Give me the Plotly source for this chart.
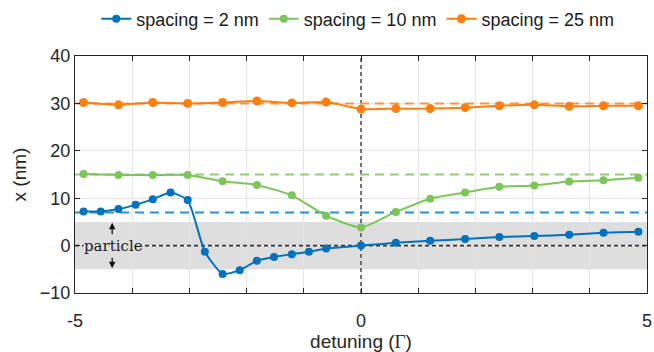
import plotly.graph_objects as go

# ---------------- data ----------------
x_fine = [-4.85, -4.55, -4.24, -3.94, -3.64, -3.33, -3.03, -2.73, -2.42, -2.12, -1.82, -1.52,
          -1.21, -0.91, -0.61, 0.0, 0.61, 1.21, 1.82, 2.42, 3.03, 3.64, 4.24, 4.85]
x_coarse = [-4.85, -4.24, -3.64, -3.03, -2.42, -1.82, -1.21, -0.61, 0.0,
            0.61, 1.21, 1.82, 2.42, 3.03, 3.64, 4.24, 4.85]

x_2nm = [7.2, 7.2, 7.7, 8.6, 9.8, 11.2, 9.6, -1.3, -6.0, -5.2, -3.2, -2.4,
         -1.8, -1.3, -0.6, 0.0, 0.6, 1.0, 1.4, 1.8, 2.0, 2.3, 2.7, 2.9]
x_10nm = [15.1, 14.9, 14.9, 14.9, 13.6, 12.8, 10.6, 6.3, 3.8,
          7.1, 9.9, 11.2, 12.4, 12.7, 13.5, 13.8, 14.3]
x_25nm = [30.2, 29.7, 30.2, 30.0, 30.2, 30.5, 30.1, 30.3, 28.8,
          28.9, 28.9, 29.1, 29.5, 29.7, 29.4, 29.5, 29.5]

series_names = ["spacing = 2 nm", "spacing = 10 nm", "spacing = 25 nm"]
spacings = [7, 15, 30]          # dashed reference levels
particle_band = [-5, 5]

x_tickvals = [-5, -4, -3, -2, -1, 0, 1, 2, 3, 4, 5]
x_ticktext = ["-5", "", "", "", "", "0", "", "", "", "", "5"]
y_tickvals = [-10, 0, 10, 20, 30, 40]

# ---------------- style ----------------
colors = ["#0072BD", "#7cc55a", "#ff7f0e"]
dash_colors = ["#2490e0", "#8fd06c", "#ff9640"]
axis_col = "#262626"
font_main = "Liberation Sans, Arial, sans-serif"

fig = go.Figure()

xs = [x_fine, x_coarse, x_coarse]
ys = [x_2nm, x_10nm, x_25nm]
msizes = [8, 8, 9]
for i in range(3):
    fig.add_trace(go.Scatter(
        x=xs[i], y=ys[i], name=series_names[i], mode="lines+markers",
        line=dict(color=colors[i], width=2, shape="spline", smoothing=0.5),
        marker=dict(color=colors[i], size=msizes[i]),
    ))

shapes = [
    dict(type="rect", xref="x", yref="y", x0=-5, x1=5, y0=particle_band[0], y1=particle_band[1],
         fillcolor="#dedede", line=dict(width=0), layer="below"),
    dict(type="line", xref="x", yref="y", x0=-5, x1=5, y0=0, y1=0,
         line=dict(color="#333333", width=1.6, dash="4px,3px"), layer="between"),
    dict(type="line", xref="x", yref="y", x0=0, x1=0, y0=-10, y1=40,
         line=dict(color="#4a4a4a", width=1.5, dash="4px,3px"), layer="between"),
]
for lvl, c in zip(spacings, dash_colors):
    shapes.append(dict(type="line", xref="x", yref="y", x0=-5, x1=5, y0=lvl, y1=lvl,
                       line=dict(color=c, width=2, dash="9px,6px"), layer="between"))

annotations = [
    dict(x=-4.33, y=0, xref="x", yref="y", text="particle", showarrow=False,
         font=dict(family="DejaVu Serif, serif", size=15, color="#1a1a1a"),
         bgcolor="#dedede", borderpad=0),
    dict(x=-4.35, y=4.8, xref="x", yref="y", ax=0, ay=13, axref="pixel", ayref="pixel",
         text="", showarrow=True, arrowhead=2, arrowsize=1, arrowwidth=1.3,
         arrowcolor="#111111", standoff=0, startstandoff=0),
    dict(x=-4.35, y=-4.8, xref="x", yref="y", ax=0, ay=-12, axref="pixel", ayref="pixel",
         text="", showarrow=True, arrowhead=2, arrowsize=1, arrowwidth=1.3,
         arrowcolor="#111111", standoff=0, startstandoff=0),
]

fig.update_layout(
    width=654, height=352,
    margin=dict(l=75, r=7, t=56, b=59, autoexpand=False),
    paper_bgcolor="white", plot_bgcolor="white",
    font=dict(family=font_main, size=17, color=axis_col),
    shapes=shapes, annotations=annotations,
    showlegend=True,
    legend=dict(orientation="h", x=0.547, xref="container", xanchor="center",
                y=1 - 19 / 352, yref="container", yanchor="middle",
                font=dict(size=18, color="#1a1a1a"), itemwidth=30,
                bgcolor="rgba(0,0,0,0)", tracegroupgap=0),
)

fig.update_xaxes(
    range=[-5, 5], tickvals=x_tickvals, ticktext=x_ticktext, automargin=False,
    ticks="inside", ticklen=5, tickcolor=axis_col, tickwidth=1,
    showline=True, linecolor=axis_col, linewidth=1, mirror="ticks",
    showgrid=True, gridcolor="#e3e3e3", gridwidth=1, zeroline=False,
    tickfont=dict(size=18, color=axis_col), ticklabelstandoff=11,
    title=dict(text="detuning (<span style='font-family:Liberation Serif, serif'>Γ</span>)",
               font=dict(size=19, color=axis_col), standoff=6),
)
fig.update_yaxes(
    range=[-10, 40], tickvals=y_tickvals, automargin=False,
    ticks="inside", ticklen=5, tickcolor=axis_col, tickwidth=1,
    showline=True, linecolor=axis_col, linewidth=1, mirror="ticks",
    showgrid=True, gridcolor="#e3e3e3", gridwidth=1, zeroline=False,
    tickfont=dict(size=18, color=axis_col),
    title=dict(text="x (nm)", font=dict(size=19, color=axis_col), standoff=8),
)

fig.write_html("out.html", config={"displayModeBar": False},
               post_script="document.body.style.margin='0';document.body.style.padding='0';")
